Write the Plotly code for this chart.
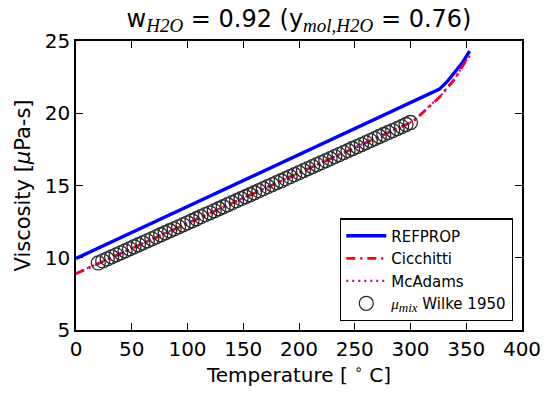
import plotly.graph_objects as go

# REFPROP (blue solid)
refprop_T = [0, 50, 100, 150, 200, 250, 300, 326, 333, 340, 347, 353]
refprop_mu = [9.95, 11.75, 13.55, 15.35, 17.15, 18.95, 20.75, 21.67, 22.2, 22.85, 23.55, 24.3]

# Cicchitti (red dash-dot)
cicchitti_T = [0, 50, 100, 150, 200, 250, 300, 305, 311, 318, 326, 333, 340, 347, 353]
cicchitti_mu = [8.9, 10.65, 12.4, 14.15, 15.9, 17.6, 19.35, 19.6, 20.05, 20.55, 21.1, 21.75, 22.4, 23.3, 24.0]

# McAdams (magenta dotted)
mcadams_T = [0, 50, 100, 150, 200, 250, 300, 305, 311, 318, 326, 333, 340, 347, 353]
mcadams_mu = [8.92, 10.66, 12.41, 14.16, 15.9, 17.62, 19.37, 19.62, 20.07, 20.57, 21.12, 21.77, 22.42, 23.3, 23.98]

# Wilke 1950 mixture viscosity (open circles)
wilke_T = [20, 24, 28, 32, 36, 40, 44, 48, 52, 56, 60, 64, 68, 72, 76, 80, 84, 88, 92, 96,
           100, 104, 108, 112, 116, 120, 124, 128, 132, 136, 140, 144, 148, 152, 156, 160,
           164, 168, 172, 176, 180, 184, 188, 192, 196, 200, 204, 208, 212, 216, 220, 224,
           228, 232, 236, 240, 244, 248, 252, 256, 260, 264, 268, 272, 276, 280, 284, 288,
           292, 296, 300]
wilke_mu = [9.64, 9.78, 9.92, 10.06, 10.20, 10.34, 10.48, 10.62, 10.76, 10.90, 11.03, 11.17,
            11.31, 11.45, 11.59, 11.73, 11.87, 12.00, 12.14, 12.28, 12.42, 12.56, 12.70, 12.84,
            12.98, 13.11, 13.25, 13.39, 13.53, 13.67, 13.81, 13.95, 14.09, 14.22, 14.36, 14.50,
            14.64, 14.78, 14.92, 15.06, 15.20, 15.33, 15.47, 15.61, 15.75, 15.89, 16.03, 16.17,
            16.31, 16.45, 16.58, 16.72, 16.86, 17.00, 17.14, 17.28, 17.42, 17.56, 17.69, 17.83,
            17.97, 18.11, 18.25, 18.39, 18.53, 18.67, 18.80, 18.94, 19.08, 19.22, 19.36]

x_ticks = [0, 50, 100, 150, 200, 250, 300, 350, 400]
y_ticks = [5, 10, 15, 20, 25]

FONT = "DejaVu Sans"
SERIF_I = "font-family:'Liberation Serif','DejaVu Serif';font-style:italic"
SERIF_I_BIG = SERIF_I + ";font-size:19px"
SERIF_I_LEG = SERIF_I + ";font-size:13px"

fig = go.Figure()
fig.add_trace(go.Scatter(x=refprop_T, y=refprop_mu, mode="lines", name="REFPROP",
                         line=dict(color="#0000ff", width=3.4)))
fig.add_trace(go.Scatter(x=cicchitti_T, y=cicchitti_mu, mode="lines", name="Cicchitti",
                         line=dict(color="#ff0000", width=2.8, dash="9px,5px,2px,5px")))
fig.add_trace(go.Scatter(x=mcadams_T, y=mcadams_mu, mode="lines", name="McAdams",
                         line=dict(color="#bf00bf", width=2.2, dash="2px,4px")))
fig.add_trace(go.Scatter(x=wilke_T, y=wilke_mu, mode="markers",
                         name=(f"<span style=\"{SERIF_I}\">μ<sub><span style=\"{SERIF_I_LEG}\">mix</span></sub></span>"
                               " Wilke 1950"),
                         marker=dict(symbol="circle-open", size=14,
                                     line=dict(color="#2a2a2a", width=1.3), color="#2a2a2a")))

title_text = (f"w<sub><span style=\"{SERIF_I_BIG}\">H2O</span></sub> = 0.92 "
              f"(y<sub><span style=\"{SERIF_I_BIG}\">mol,H2O</span></sub> = 0.76)")

fig.update_layout(
    width=553, height=395,
    margin=dict(l=76, r=22, t=41, b=58),
    paper_bgcolor="white", plot_bgcolor="white",
    font=dict(family=FONT, size=19, color="black"),
    title=dict(text=title_text, x=0.5, xref="paper", xanchor="center",
               y=1 - 19 / 395, yref="container", yanchor="middle",
               font=dict(family=FONT, size=24, color="black")),
    showlegend=True,
    legend=dict(x=0.98, y=0.03, xanchor="right", yanchor="bottom",
                bgcolor="white", bordercolor="black", borderwidth=1.2,
                font=dict(family=FONT, size=15, color="black"),
                itemwidth=40, tracegroupgap=0),
    xaxis=dict(range=[0, 400], tickvals=x_ticks, ticktext=[str(v) for v in x_ticks],
               ticks="inside", ticklen=7, tickwidth=1, tickcolor="black",
               showline=True, linecolor="black", linewidth=1.5, mirror="ticks",
               showgrid=False, zeroline=False,
               tickfont=dict(family=FONT, size=20),
               title=dict(text="Temperature [ <sup>∘</sup> C]", standoff=8,
                          font=dict(family=FONT, size=20))),
    yaxis=dict(range=[5, 25], tickvals=y_ticks, ticktext=[str(v) for v in y_ticks],
               ticks="inside", ticklen=7, tickwidth=1, tickcolor="black",
               showline=True, linecolor="black", linewidth=1.5, mirror="ticks",
               showgrid=False, zeroline=False,
               tickfont=dict(family=FONT, size=20),
               title=dict(text="Viscosity [<i>μ</i>Pa-s]", standoff=8,
                          font=dict(family=FONT, size=21))),
)

fig.write_html("out.html")
